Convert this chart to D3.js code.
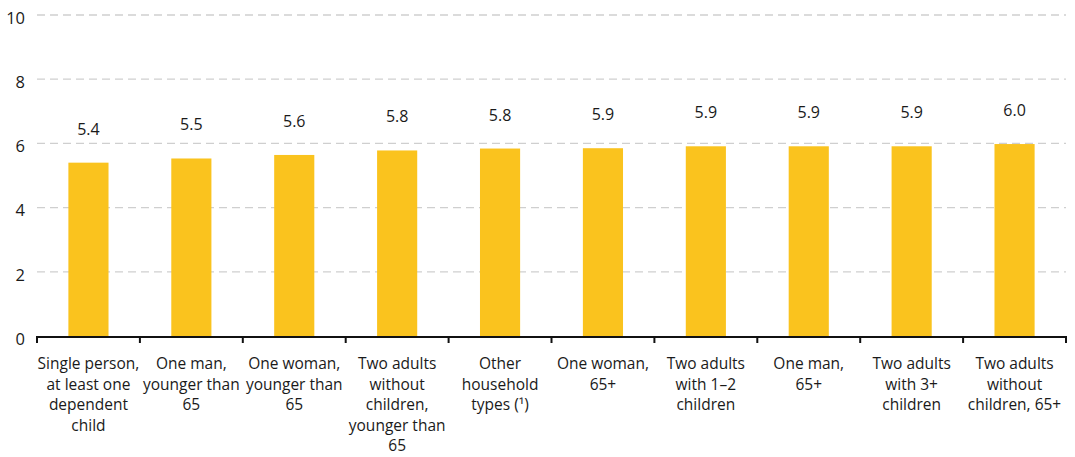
<!DOCTYPE html>
<html><head><meta charset="utf-8">
<script src="https://cdn.jsdelivr.net/npm/d3@7"></script>
<style>body{margin:0;background:#fff}svg{display:block}text{font-family:"Open Sans",sans-serif;fill:#1a1a1a}</style>
</head><body>
<svg id="c" width="1075" height="457"></svg>
<script>
const categories = [
  ["Single person,","at least one","dependent","child"],
  ["One man,","younger than","65"],
  ["One woman,","younger than","65"],
  ["Two adults","without","children,","younger than","65"],
  ["Other","household","types (\u00B9)"],
  ["One woman,","65+"],
  ["Two adults","with 1\u20132","children"],
  ["One man,","65+"],
  ["Two adults","with 3+","children"],
  ["Two adults","without","children, 65+"]
];
const values = [5.40, 5.53, 5.64, 5.78, 5.84, 5.85, 5.91, 5.91, 5.91, 5.98];
const valueLabels = ["5.4","5.5","5.6","5.8","5.8","5.9","5.9","5.9","5.9","6.0"];
const yTicks = [0, 2, 4, 6, 8, 10];

const svg = d3.select("#c");
const m = {left: 37, right: 1066, top: 15, bottom: 336};
const x = d3.scaleBand().domain(d3.range(categories.length)).range([m.left, m.right]).paddingInner(0.61).paddingOuter(0.305);
const y = d3.scaleLinear().domain([0, 10]).range([m.bottom, m.top]);

// gridlines
svg.append("g").selectAll("line").data(yTicks.filter(d => d > 0)).join("line")
  .attr("x1", m.left).attr("x2", m.right)
  .attr("y1", d => y(d)).attr("y2", d => y(d))
  .attr("stroke", "#cfcfcf").attr("stroke-width", 1.3).attr("stroke-dasharray", "8,5");

// y labels
svg.append("g").selectAll("text").data(yTicks).join("text")
  .attr("x", 25).attr("y", d => y(d) + 3).attr("dy", "0.35em")
  .attr("text-anchor", "end").style("font-size", "16.5px").text(d => d);

// bars
svg.append("g").selectAll("rect").data(values).join("rect")
  .attr("x", (d, i) => x(i)).attr("width", x.bandwidth())
  .attr("y", d => y(d)).attr("height", d => y(0) - y(d))
  .attr("fill", "#FAC31E");

// value labels
svg.append("g").selectAll("text").data(values).join("text")
  .attr("x", (d, i) => x(i) + x.bandwidth() / 2)
  .attr("y", d => y(d) - 28)
  .attr("text-anchor", "middle").style("font-size", "16px")
  .text((d, i) => valueLabels[i]);

// x axis
const step = x.step();
const bounds = d3.range(categories.length + 1).map(i => m.left + i * step);
svg.append("line").attr("x1", m.left).attr("x2", m.right).attr("y1", y(0) + 1).attr("y2", y(0) + 1)
  .attr("stroke", "#111").attr("stroke-width", 2);
svg.append("g").selectAll("line").data(bounds).join("line")
  .attr("x1", d => d).attr("x2", d => d).attr("y1", y(0)).attr("y2", y(0) + 7)
  .attr("stroke", "#111").attr("stroke-width", 2);

// category labels
const cl = svg.append("g").selectAll("text").data(categories).join("text")
  .attr("text-anchor", "middle").style("font-size", "15.5px")
  .attr("x", (d, i) => x(i) + x.bandwidth() / 2).attr("y", 369);
cl.selectAll("tspan").data(d => d).join("tspan")
  .attr("x", function() { return this.parentNode.getAttribute("x"); })
  .attr("dy", (d, j) => j === 0 ? 0 : 20.6).text(d => d);
</script>
</body></html>
